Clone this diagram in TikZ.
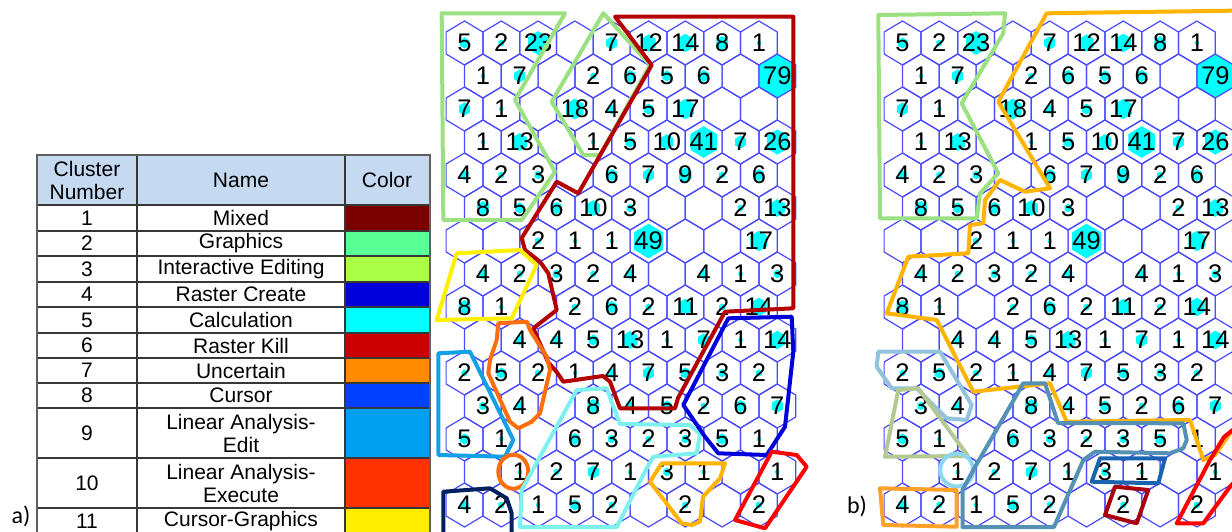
\documentclass[tikz,border=0pt]{standalone}
\usepackage{fontspec}
\setmainfont{Liberation Sans}
\newfontfamily\labfont{Carlito}
\definecolor{hexline}{RGB}{75,75,255}
\definecolor{hitcyan}{RGB}{0,255,255}
\definecolor{headblue}{RGB}{197,217,241}
\definecolor{tabgray}{RGB}{55,55,55}
\definecolor{cA}{RGB}{122,0,0}
\definecolor{cB}{RGB}{90,255,150}
\definecolor{cC}{RGB}{170,255,70}
\definecolor{cD}{RGB}{0,0,220}
\definecolor{cE}{RGB}{0,255,255}
\definecolor{cF}{RGB}{204,0,0}
\definecolor{cG}{RGB}{255,140,0}
\definecolor{cH}{RGB}{0,64,255}
\definecolor{cI}{RGB}{0,160,240}
\definecolor{cJ}{RGB}{255,50,0}
\definecolor{cK}{RGB}{255,238,0}
\definecolor{pgreen}{RGB}{155,225,130}
\definecolor{pdred}{RGB}{180,0,0}
\definecolor{pyellow}{RGB}{255,240,0}
\definecolor{porange}{RGB}{255,110,10}
\definecolor{plblue}{RGB}{20,160,230}
\definecolor{pnavy}{RGB}{0,32,96}
\definecolor{pcyan}{RGB}{125,240,240}
\definecolor{pblue}{RGB}{0,0,220}
\definecolor{pgold}{RGB}{255,180,0}
\definecolor{pred}{RGB}{255,0,0}
\definecolor{psteel}{RGB}{85,145,180}
\definecolor{plsteel}{RGB}{145,195,220}
\definecolor{psage}{RGB}{180,200,145}
\definecolor{pcirc}{RGB}{140,215,240}
\definecolor{pdblue}{RGB}{25,100,175}
\definecolor{pdred2}{RGB}{170,0,10}
\definecolor{porect}{RGB}{255,160,40}
\tikzset{
  hexo/.pic={\path[pic actions] (0,-22)--(18.4,-11)--(18.4,11)--(0,22)--(-18.4,11)--(-18.4,-11)--cycle;},
  num/.style={font=\fontsize{25.5}{25.5}\selectfont, inner sep=0pt, text=black},
  clus/.style={line width=4pt, line join=round},
  tabtext/.style={font=\fontsize{21}{23}\selectfont, inner sep=0pt, align=center},
  tabline/.style={draw=tabgray, line width=1.8pt},
}
\newcommand\somgrid[2]{%
  \foreach \row [count=\r from 0] in {%
    {5,2,23,0,7,12,14,8,1},
    {1,7,0,2,6,5,6,0,79},
    {7,1,0,18,4,5,17,0,0},
    {1,13,0,1,5,10,41,7,26},
    {4,2,3,0,6,7,9,2,6},
    {8,5,6,10,3,0,0,2,13},
    {0,0,2,1,1,49,0,0,17},
    {4,2,3,2,4,0,4,1,3},
    {8,1,0,2,6,2,11,2,14},
    {0,4,4,5,13,1,7,1,14},
    {2,5,2,1,4,7,5,3,2},
    {3,4,0,8,4,5,2,6,7},
    {5,1,0,6,3,2,3,5,1},
    {0,1,2,7,1,3,1,0,1},
    {4,2,1,5,2,0,2,0,2}}{%
    \foreach \v [count=\k from 0] in \row {%
      \pgfmathsetmacro\cx{#1+464.5+36.8*\k+18.4*mod(\r,2)}%
      \pgfmathsetmacro\cy{43+33*\r}%
      \ifnum\v>0
        \pgfmathsetmacro\sc{sqrt(\v/79)}%
        \pic[fill=hitcyan, scale=\sc] at (\cx,\cy) {hexo};
      \fi
      \pic[draw=hexline, line width=1.2pt] at (\cx,\cy) {hexo};
      \ifnum\v>0
        \node[num] (#2\r-\k) at (\cx,\cy) {\v};
      \fi
    }%
  }%
}
\begin{document}
\begin{tikzpicture}[x=1pt,y=-1pt]
\useasboundingbox (0,0) rectangle (1232,531);
\clip (0,0) rectangle (1232,531);
\fill[white] (0,0) rectangle (1232,531);

% ---------- table ----------
\fill[headblue] (37,155) rectangle (430,205);
\node[tabtext] (hnum) at (87,180) {Cluster\\Number};
\node[tabtext] (hname) at (241,180) {Name};
\node[tabtext] (hcol) at (387,180) {Color};
\foreach \n/\nm/\c/\ya/\yb in {1/Mixed/cA/205/231, 2/Graphics/cB/231/256, 3/Interactive Editing/cC/256/282, 4/Raster Create/cD/282/307, 5/Calculation/cE/307/333, 6/Raster Kill/cF/333/358, 7/Uncertain/cG/358/383, 8/Cursor/cH/383/408, 9/Linear Analysis-\\Edit/cI/408/458, 10/Linear Analysis-\\Execute/cJ/458/508, 11/Cursor-Graphics/cK/508/534}{
  \fill[\c] (345,\ya) rectangle (430,\yb);
  \node[tabtext] (num\n) at (87,{(\ya+\yb)/2}) {\n};
  \node[tabtext] (name\n) at (241,{(\ya+\yb)/2}) {\nm};
}
\foreach \y in {205,231,256,282,307,333,358,383,408,458,508}{
  \draw[tabline] (37,\y) -- (430,\y);
}
\foreach \x in {137,345}{
  \draw[tabline] (\x,155) -- (\x,540);
}
\draw[draw=tabgray!80, line width=2.5pt] (37,540) -- (37,155) -- (430,155) -- (430,540);

\node[font=\labfont\fontsize{24}{24}\selectfont, inner sep=0pt] (la) at (21,516) {a)};
\node[font=\labfont\fontsize{24}{24}\selectfont, inner sep=0pt] (lb) at (857,506) {b)};

% ---------- grids ----------
\somgrid{0}{a}
\somgrid{438}{b}

% ---------- clusters, map a ----------
\draw[clus, pgreen] (441.7,13.3) -- (565,13.3) -- (515,100) -- (555,171.7) -- (521.7,220) -- (443.3,220) -- cycle;
\draw[clus, pgreen] (603.3,13.3) -- (650,65) -- (600,155) -- (583.3,155) -- (551.7,101.7) -- cycle;
\draw[clus, pdred] (615,16.7) -- (793.3,16.7) -- (793.3,308.3) -- (725,311.7) -- (678,398) -- (675,408.3) -- (620,408.3) -- (610,381.7) -- (603,376) -- (563.3,381.7) -- (556.7,372) -- (548,362) -- (533.3,328.3) -- (556.7,310) -- (548.3,273.3) -- (540,261.7) -- (525,250) -- (521.7,238) -- (556.7,181.7) -- (578.3,193.3) -- (651.7,65) -- cycle;
\draw[clus, pyellow] (456.7,253.3) -- (520,250) -- (536.7,265) -- (511.7,318.3) -- (436.7,320) -- cycle;
\draw[clus, porange] (498.3,323.3) -- (526.7,321.7) -- (530,330) -- (546.7,356.7) -- (550,370) -- (540,413.3) -- (531.7,421.7) -- (518.3,428.3) -- (510,421.7) -- (488.3,373.3) -- (490,360) -- (496.7,340) -- cycle;
\draw[clus, plblue] (438.3,353.3) -- (470,351.7) -- (513.3,440) -- (505,456.7) -- (438.3,455) -- cycle;
\draw[clus, porange] (513.3,471.7) ellipse (15 and 17);
\draw[clus, pnavy] (443.3,545) -- (443.3,491.7) -- (490,488.3) -- (506.7,498.3) -- (511.7,513.3) -- (511.7,545);
\draw[clus, pcyan] (520,527) -- (521.7,490) -- (576.7,390) -- (606.7,388.3) -- (612,403) -- (620,424) -- (690,425) -- (700,434) -- (696.7,453.3) -- (653.3,456.7) -- (646.7,468.3) -- (616.7,527) -- cycle;
\draw[clus, pblue] (728.3,318.3) -- (791.7,316.7) -- (793.3,351.7) -- (785,426.7) -- (766.7,455) -- (718.3,453.3) -- (705,436.7) -- (683.3,405) -- cycle;
\draw[clus, pgold] (650,481.7) -- (661.7,463.3) -- (725,463.3) -- (720,478.3) -- (703,496.7) -- (700,521.7) -- (691.7,525) -- (681.7,523.3) -- cycle;
\draw[clus, pred] (771.7,451.7) -- (796.7,455) -- (806.7,466.7) -- (765,528.3) -- (735,520) -- cycle;

% ---------- clusters, map b ----------
\draw[clus, pgreen] (878.3,15) -- (1005,13.3) -- (1003.3,33.3) -- (961.7,103.3) -- (998.3,173.3) -- (980,193.3) -- (976.7,218.3) -- (880,218.3) -- cycle;
\draw[clus, pgold] (1245,10.5) -- (1046.7,13.3) -- (998.3,101.7) -- (1050,188.3) -- (1025,191.7) -- (1000,180) -- (985,200) -- (983.3,223.3) -- (970,225) -- (968.3,253.3) -- (908.3,256.7) -- (886.7,313.3) -- (936.7,320) -- (973.3,391.7) -- (1050,383.3) -- (1066.7,421.7) -- (1190,420) -- (1203.3,460) -- (1215,455) -- (1230,433.3) -- (1245,420) -- cycle;
\draw[clus, plsteel] (878.3,351.7) -- (940,351.7) -- (971.7,405) -- (966.7,420) -- (946.7,418.3) -- (916.7,388.3) -- (891.7,388.3) -- (876.7,366.7) -- cycle;
\draw[clus, psage] (898.3,390) -- (918.3,388.3) -- (968,456) -- (885,456.7) -- cycle;
\draw[clus, pcirc] (956.7,470) circle (16.5);
\draw[clus, psteel] (1023.3,383.3) -- (1045,383.3) -- (1058,423) -- (1183.3,423.3) -- (1186.7,440) -- (1183.3,448.3) -- (1170,453.3) -- (1095,451.7) -- (1083.3,460) -- (1054,527) -- (962.5,527) -- (962.5,490) -- (973.3,470) -- cycle;
\draw[clus, pdblue] (1100,458.3) -- (1165,458.3) -- (1158.3,483.3) -- (1091.7,481.7) -- cycle;
\draw[clus, pdred2] (1115,486.7) -- (1148.3,490) -- (1136.7,523.3) -- (1105,515) -- cycle;
\draw[clus, pred] (1176.7,523.3) -- (1210,460) -- (1224,437) -- (1245,420) -- (1245,470) -- (1230,486.7) -- (1203.3,523.3) -- cycle;
\draw[clus, porect] (880,488.3) -- (956.7,490) -- (956.7,526.7) -- (883.3,525) -- cycle;
\end{tikzpicture}
\end{document}
